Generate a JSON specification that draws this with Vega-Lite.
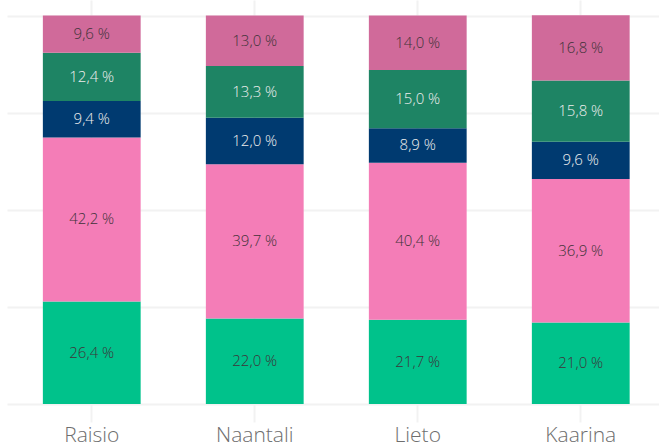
{
  "$schema": "https://vega.github.io/schema/vega-lite/v6.json",
  "width": 652,
  "height": 404,
  "autosize": "none",
  "padding": {"left": 7, "top": 0, "right": 0, "bottom": 42},
  "background": "white",
  "config": {"view": {"stroke": null}, "font": "Open Sans"},
  "data": {
    "values": [
      {"city": "Raisio", "cat": "a", "order": 1, "value": 26.4, "label": "26,4 %"},
      {"city": "Raisio", "cat": "b", "order": 2, "value": 42.2, "label": "42,2 %"},
      {"city": "Raisio", "cat": "c", "order": 3, "value": 9.4, "label": "9,4 %"},
      {"city": "Raisio", "cat": "d", "order": 4, "value": 12.4, "label": "12,4 %"},
      {"city": "Raisio", "cat": "e", "order": 5, "value": 9.6, "label": "9,6 %"},
      {"city": "Naantali", "cat": "a", "order": 1, "value": 22.0, "label": "22,0 %"},
      {"city": "Naantali", "cat": "b", "order": 2, "value": 39.7, "label": "39,7 %"},
      {"city": "Naantali", "cat": "c", "order": 3, "value": 12.0, "label": "12,0 %"},
      {"city": "Naantali", "cat": "d", "order": 4, "value": 13.3, "label": "13,3 %"},
      {"city": "Naantali", "cat": "e", "order": 5, "value": 13.0, "label": "13,0 %"},
      {"city": "Lieto", "cat": "a", "order": 1, "value": 21.7, "label": "21,7 %"},
      {"city": "Lieto", "cat": "b", "order": 2, "value": 40.4, "label": "40,4 %"},
      {"city": "Lieto", "cat": "c", "order": 3, "value": 8.9, "label": "8,9 %"},
      {"city": "Lieto", "cat": "d", "order": 4, "value": 15.0, "label": "15,0 %"},
      {"city": "Lieto", "cat": "e", "order": 5, "value": 14.0, "label": "14,0 %"},
      {"city": "Kaarina", "cat": "a", "order": 1, "value": 21.0, "label": "21,0 %"},
      {"city": "Kaarina", "cat": "b", "order": 2, "value": 36.9, "label": "36,9 %"},
      {"city": "Kaarina", "cat": "c", "order": 3, "value": 9.6, "label": "9,6 %"},
      {"city": "Kaarina", "cat": "d", "order": 4, "value": 15.8, "label": "15,8 %"},
      {"city": "Kaarina", "cat": "e", "order": 5, "value": 16.8, "label": "16,8 %"}
    ]
  },
  "transform": [
    {"stack": "value", "groupby": ["city"], "sort": [{"field": "order", "order": "ascending"}], "as": ["y0", "y1"]},
    {"calculate": "(datum.y0 + datum.y1) / 2", "as": "ymid"}
  ],
  "encoding": {
    "x": {
      "field": "city",
      "type": "nominal",
      "sort": ["Raisio", "Naantali", "Lieto", "Kaarina"],
      "scale": {"paddingInner": 0.4, "paddingOuter": 0.2, "align": 0.55},
      "axis": {
        "title": null,
        "grid": true,
        "gridColor": "#f2f2f2",
        "gridWidth": 2,
        "domain": false,
        "ticks": true,
        "tickSize": 18,
        "tickColor": "#f2f2f2",
        "tickWidth": 2,
        "labelFontSize": 21,
        "labelFontWeight": 300,
        "labelColor": "#6e6e6e",
        "labelPadding": 2,
        "labelAngle": 0
      }
    }
  },
  "layer": [
    {
      "mark": {"type": "bar"},
      "encoding": {
        "y": {
          "field": "y0",
          "type": "quantitative",
          "scale": {"domain": [0, 104], "nice": false},
          "axis": {
            "title": null,
            "values": [0, 25, 50, 75, 100],
            "labels": false,
            "ticks": false,
            "domain": false,
            "grid": true,
            "gridColor": "#f2f2f2",
            "gridWidth": 2
          }
        },
        "y2": {"field": "y1"},
        "color": {
          "field": "cat",
          "type": "nominal",
          "scale": {
            "domain": ["a", "b", "c", "d", "e"],
            "range": ["#00C28B", "#F47DB7", "#003A70", "#1E8464", "#D06A9A"]
          },
          "legend": null
        }
      }
    },
    {
      "mark": {"type": "text", "fontSize": 15, "fontWeight": 300, "baseline": "middle", "align": "center"},
      "encoding": {
        "y": {"field": "ymid", "type": "quantitative"},
        "text": {"field": "label"},
        "color": {
          "condition": {"test": "datum.cat === 'c' || datum.cat === 'd'", "value": "#eeeeee"},
          "value": "#3f3339"
        }
      }
    }
  ]
}
